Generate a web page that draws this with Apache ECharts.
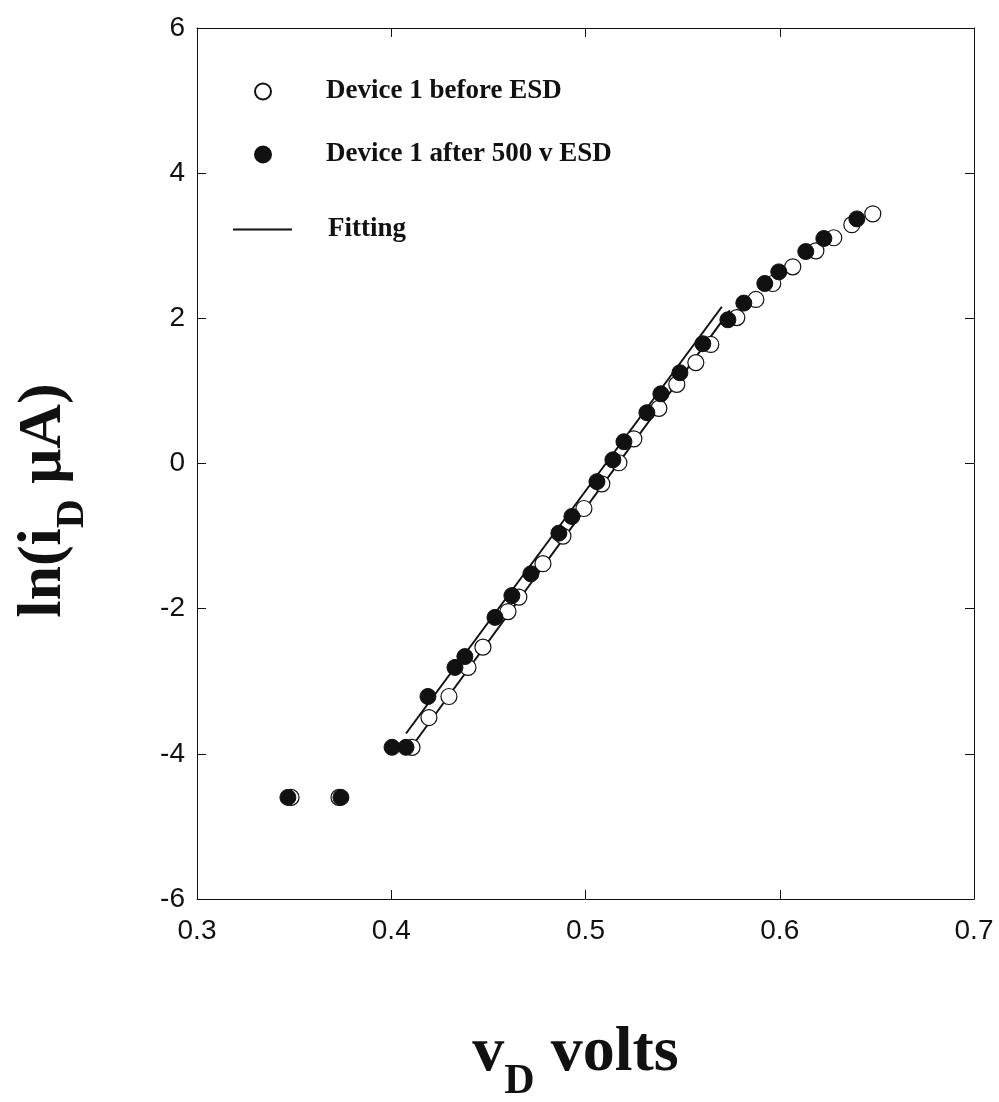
<!DOCTYPE html>
<html>
<head>
<meta charset="utf-8">
<script src="https://cdn.jsdelivr.net/npm/echarts@6/dist/echarts.min.js"></script>
<style>
  html, body { margin: 0; padding: 0; background: #fff; }
  #chart { width: 999px; height: 1102px; }
</style>
</head>
<body>
<div id="chart"></div>
<script>
// data: [vD volts, ln(iD uA)]
var beforeEsd = [
  [0.3484, -4.60], [0.3731, -4.60], [0.4107, -3.91], [0.4194, -3.50],
  [0.4297, -3.21], [0.4395, -2.81], [0.4472, -2.53], [0.4601, -2.04],
  [0.4657, -1.84], [0.4781, -1.38], [0.4884, -1.00], [0.4992, -0.62],
  [0.5084, -0.28], [0.5172, 0.01], [0.5249, 0.34], [0.5378, 0.76],
  [0.5470, 1.09], [0.5568, 1.39], [0.5645, 1.64], [0.5779, 2.01],
  [0.5877, 2.26], [0.5964, 2.48], [0.6067, 2.71], [0.6186, 2.93],
  [0.6278, 3.11], [0.6371, 3.29], [0.6479, 3.44]
];
var afterEsd = [
  [0.3468, -4.60], [0.3741, -4.60], [0.4004, -3.91], [0.4076, -3.91],
  [0.4189, -3.21], [0.4328, -2.81], [0.4379, -2.66], [0.4534, -2.12],
  [0.4621, -1.82], [0.4719, -1.52], [0.4863, -0.96], [0.4930, -0.73],
  [0.5059, -0.25], [0.5141, 0.05], [0.5198, 0.30], [0.5316, 0.70],
  [0.5388, 0.96], [0.5486, 1.25], [0.5604, 1.65], [0.5733, 1.98],
  [0.5815, 2.21], [0.5923, 2.48], [0.5995, 2.64], [0.6134, 2.92],
  [0.6227, 3.10], [0.6397, 3.37]
];
// fitted straight lines (end points)
var fitAfter = [[0.4076, -3.72], [0.5702, 2.16]];
var fitBefore = [[0.4122, -3.84], [0.5743, 2.11]];

var xTicks = { min: 0.3, max: 0.7, step: 0.1 };
var yTicks = { min: -6, max: 6, step: 2 };

var serif = '"Liberation Serif", "Times New Roman", serif';
var sans = '"Liberation Sans", Arial, sans-serif';
var ink = '#111';

var chart = echarts.init(document.getElementById('chart'));

var axisCommon = {
  type: 'value',
  axisLine: { show: true, onZero: false, lineStyle: { color: ink, width: 1 } },
  axisTick: { show: true, inside: true, length: 9, lineStyle: { color: ink } },
  splitLine: { show: false }
};

var option = {
  animation: false,
  backgroundColor: '#fff',
  grid: { left: 197, right: 25, top: 28, bottom: 203, show: false, containLabel: false, outerBoundsMode: 'none' },
  legend: [
    {
      left: 254, top: 78, orient: 'vertical', itemGap: 36, padding: 0,
      itemWidth: 16, itemHeight: 16,
      textStyle: { fontFamily: serif, fontWeight: 'bold', fontSize: 27, color: ink, padding: [0, 0, 0, 50] },
      data: [
        { name: 'Device 1 before ESD', icon: 'circle' },
        { name: 'Device 1 after 500 v ESD', icon: 'circle' }
      ]
    },
    {
      left: 233, top: 216, itemWidth: 59, itemHeight: 2, padding: 0,
      textStyle: { fontFamily: serif, fontWeight: 'bold', fontSize: 27, color: ink, padding: [0, 0, 0, 31] },
      data: [{ name: 'Fitting', icon: 'rect' }]
    }
  ],
  xAxis: [
    Object.assign({}, axisCommon, {
      min: xTicks.min, max: xTicks.max, interval: xTicks.step,
      axisLabel: { fontFamily: sans, fontSize: 28, color: ink, margin: 18,
        formatter: function (v) { return v.toFixed(1); } },
      name: '{v|v}{d|D}{v| volts}',
      nameLocation: 'middle', nameGap: 108,
      nameTextStyle: {
        padding: [0, 20, 0, 0],
        rich: {
          v: { fontFamily: serif, fontWeight: 'bold', fontSize: 64, color: ink, lineHeight: 78, verticalAlign: 'bottom' },
          d: { fontFamily: serif, fontWeight: 'bold', fontSize: 42, color: ink, lineHeight: 78, verticalAlign: 'bottom', padding: [0, 0, -18, 0] }
        }
      }
    }),
    Object.assign({}, axisCommon, {
      position: 'top', min: xTicks.min, max: xTicks.max, interval: xTicks.step,
      axisLabel: { show: false }
    })
  ],
  yAxis: [
    Object.assign({}, axisCommon, {
      min: yTicks.min, max: yTicks.max, interval: yTicks.step,
      axisLabel: { fontFamily: sans, fontSize: 28, color: ink, margin: 12 },
      name: '{v|ln(i}{d|D}{v| \u03bcA)}',
      nameLocation: 'middle', nameGap: 122, nameRotate: 90,
      nameTextStyle: {
        padding: [0, 74, 0, 0],
        rich: {
          v: { fontFamily: serif, fontWeight: 'bold', fontSize: 62, color: ink, lineHeight: 76, verticalAlign: 'bottom' },
          d: { fontFamily: serif, fontWeight: 'bold', fontSize: 40, color: ink, lineHeight: 76, verticalAlign: 'bottom', padding: [0, 0, -18, 0] }
        }
      }
    }),
    Object.assign({}, axisCommon, {
      position: 'right', min: yTicks.min, max: yTicks.max, interval: yTicks.step,
      axisLabel: { show: false }
    })
  ],
  series: [
    {
      name: 'Fitting', type: 'line', data: fitAfter, symbol: 'none',
      lineStyle: { color: ink, width: 2 }, itemStyle: { color: ink }, z: 1
    },
    {
      name: 'Fitting', type: 'line', data: fitBefore, symbol: 'none',
      lineStyle: { color: ink, width: 2 }, itemStyle: { color: ink }, z: 1
    },
    {
      name: 'Device 1 before ESD', type: 'scatter', data: beforeEsd,
      symbol: 'circle', symbolSize: 16,
      itemStyle: { color: '#fff', borderColor: ink, borderWidth: 1.2, opacity: 1 }, z: 2
    },
    {
      name: 'Device 1 after 500 v ESD', type: 'scatter', data: afterEsd,
      symbol: 'circle', symbolSize: 16,
      itemStyle: { color: ink, borderColor: ink, borderWidth: 1, opacity: 1 }, z: 3
    }
  ]
};

chart.setOption(option);
</script>
</body>
</html>
